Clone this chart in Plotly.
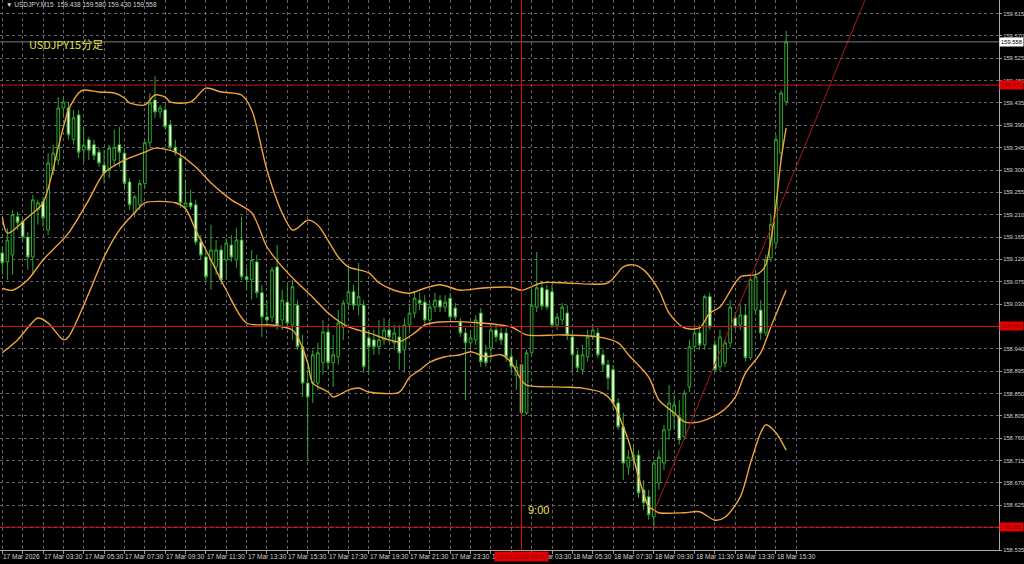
import plotly.graph_objects as go

# ---------------- data ----------------
symbol_header = "\u25BC USDJPY,M15  159.438 159.580 159.430 159.558"
chart_title = "USDJPY15分足"
marker_text = "9:00"

time_labels = ["17 Mar 2026", "17 Mar 03:30", "17 Mar 05:30", "17 Mar 07:30", "17 Mar 09:30",
               "17 Mar 11:30", "17 Mar 13:30", "17 Mar 15:30", "17 Mar 17:30", "17 Mar 19:30",
               "17 Mar 21:30", "17 Mar 23:30", "18 Mar 01:30", "18 Mar 03:30", "18 Mar 05:30",
               "18 Mar 07:30", "18 Mar 09:30", "18 Mar 11:30", "18 Mar 13:30", "18 Mar 15:30"]

price_ticks = [158.535, 158.580, 158.625, 158.670, 158.715, 158.760, 158.805, 158.850, 158.895,
               158.940, 158.985, 159.030, 159.075, 159.120, 159.165, 159.210, 159.255, 159.300,
               159.345, 159.390, 159.435, 159.480, 159.525, 159.570, 159.615]

opens = [159.133, 159.115, 159.129, 159.206, 159.196, 159.165, 159.125, 159.220, 159.236, 159.179,
         159.300, 159.320, 159.425, 159.425, 159.361, 159.411, 159.340, 159.361, 159.351, 159.336,
         159.310, 159.300, 159.320, 159.351, 159.334, 159.276, 159.214, 159.230, 159.273, 159.355,
         159.441, 159.417, 159.421, 159.391, 159.346, 159.324, 159.226, 159.234, 159.230, 159.155,
         159.125, 159.119, 159.105, 159.139, 159.119, 159.149, 159.119, 159.159, 159.085, 159.079,
         159.115, 159.053, 159.004, 159.004, 159.105, 158.998, 159.034, 158.988, 159.028, 158.944,
         158.871, 158.871, 158.871, 158.912, 158.974, 158.912, 158.924, 158.984, 159.032, 159.055,
         159.028, 159.028, 158.962, 158.958, 158.944, 158.958, 158.978, 158.952, 158.964, 158.938,
         158.988, 159.012, 159.038, 159.034, 158.998, 159.024, 159.038, 159.024, 159.042, 159.022,
         158.994, 158.972, 158.952, 158.958, 159.012, 158.932, 158.942, 158.978, 158.972, 158.972,
         158.924, 158.887, 158.908, 158.811, 158.932, 159.024, 159.063, 159.059, 159.055, 158.988,
         158.998, 159.012, 158.964, 158.928, 158.898, 158.924, 158.964, 158.972, 158.928, 158.908,
         158.898, 158.831, 158.783, 158.702, 158.716, 158.726, 158.656, 158.642, 158.602, 158.670,
         158.710, 158.777, 158.807, 158.803, 158.763, 158.863, 158.944, 158.972, 158.948, 159.045,
         158.948, 158.904, 158.912, 158.952, 159.002, 158.988, 159.008, 158.922, 159.018, 159.018,
         158.972, 159.123, 159.153, 159.334, 159.438]
highs = [159.145, 159.183, 159.220, 159.216, 159.204, 159.175, 159.250, 159.240, 159.246, 159.334,
         159.351, 159.447, 159.445, 159.437, 159.421, 159.421, 159.387, 159.367, 159.361, 159.344,
         159.340, 159.351, 159.381, 159.387, 159.344, 159.284, 159.250, 159.280, 159.361, 159.455,
         159.489, 159.431, 159.431, 159.401, 159.361, 159.340, 159.280, 159.260, 159.240, 159.169,
         159.139, 159.190, 159.159, 159.149, 159.163, 159.169, 159.183, 159.206, 159.103, 159.139,
         159.129, 159.069, 159.038, 159.105, 159.149, 159.059, 159.069, 159.079, 159.038, 158.968,
         158.898, 158.938, 158.952, 158.998, 158.988, 158.968, 159.018, 159.038, 159.105, 159.069,
         159.113, 159.038, 158.978, 158.978, 158.998, 159.002, 158.998, 158.988, 158.988, 159.002,
         159.028, 159.053, 159.053, 159.048, 159.032, 159.053, 159.048, 159.048, 159.053, 159.032,
         159.002, 158.982, 158.978, 159.008, 159.022, 158.948, 158.988, 158.988, 158.982, 158.982,
         158.938, 158.918, 158.922, 158.938, 159.059, 159.135, 159.073, 159.069, 159.069, 159.012,
         159.032, 159.028, 158.978, 158.938, 158.948, 158.978, 158.988, 158.982, 158.938, 158.918,
         158.908, 158.841, 158.811, 158.736, 158.747, 158.736, 158.676, 158.656, 158.716, 158.736,
         158.787, 158.867, 158.847, 158.837, 158.857, 158.958, 158.988, 158.988, 159.049, 159.053,
         158.958, 158.978, 158.958, 159.038, 159.014, 159.028, 159.028, 159.083, 159.099, 159.038,
         159.129, 159.210, 159.371, 159.461, 159.580]
lows = [159.089, 159.079, 159.089, 159.179, 159.155, 159.099, 159.089, 159.190, 159.185, 159.169,
        159.290, 159.310, 159.405, 159.361, 159.351, 159.324, 159.316, 159.320, 159.320, 159.306,
        159.273, 159.284, 159.310, 159.306, 159.260, 159.220, 159.204, 159.220, 159.264, 159.345,
        159.405, 159.405, 159.381, 159.340, 159.329, 159.224, 159.216, 159.220, 159.149, 159.119,
        159.075, 159.059, 159.089, 159.069, 159.079, 159.115, 159.103, 159.079, 159.059, 159.039,
        159.043, 158.964, 158.988, 158.994, 158.978, 158.978, 158.982, 158.958, 158.938, 158.843,
        158.716, 158.831, 158.857, 158.888, 158.898, 158.863, 158.908, 158.958, 159.018, 159.018,
        159.008, 158.892, 158.892, 158.928, 158.928, 158.948, 158.954, 158.938, 158.898, 158.892,
        158.978, 159.002, 159.018, 158.988, 158.988, 159.014, 159.014, 159.014, 158.998, 158.998,
        158.964, 158.837, 158.938, 158.948, 158.904, 158.904, 158.918, 158.954, 158.948, 158.914,
        158.894, 158.857, 158.807, 158.807, 158.926, 159.014, 159.018, 159.018, 158.982, 158.978,
        158.988, 158.958, 158.894, 158.894, 158.888, 158.914, 158.958, 158.922, 158.894, 158.857,
        158.817, 158.777, 158.676, 158.686, 158.696, 158.640, 158.616, 158.596, 158.580, 158.656,
        158.696, 158.757, 158.777, 158.747, 158.757, 158.853, 158.934, 158.938, 158.938, 158.978,
        158.894, 158.894, 158.904, 158.942, 158.978, 158.978, 158.914, 158.918, 159.008, 158.958,
        158.966, 159.115, 159.143, 159.320, 159.430]
closes = [159.113, 159.159, 159.210, 159.194, 159.165, 159.125, 159.240, 159.234, 159.204, 159.314,
          159.334, 159.425, 159.437, 159.371, 159.405, 159.336, 159.350, 159.340, 159.329, 159.314,
          159.294, 159.344, 159.346, 159.336, 159.273, 159.230, 159.246, 159.273, 159.355, 159.435,
          159.417, 159.425, 159.387, 159.346, 159.336, 159.234, 159.234, 159.226, 159.155, 159.129,
          159.085, 159.139, 159.139, 159.079, 159.153, 159.125, 159.159, 159.085, 159.079, 159.119,
          159.053, 159.004, 158.998, 159.099, 158.988, 159.038, 158.992, 159.065, 158.944, 158.871,
          158.843, 158.928, 158.932, 158.974, 158.912, 158.928, 158.992, 159.032, 159.055, 159.028,
          159.045, 158.904, 158.944, 158.944, 158.958, 158.978, 158.964, 158.972, 158.932, 158.988,
          159.012, 159.042, 159.032, 158.998, 159.024, 159.038, 159.024, 159.034, 159.004, 159.004,
          158.972, 158.952, 158.962, 158.998, 158.914, 158.912, 158.978, 158.964, 158.958, 158.924,
          158.904, 158.904, 158.811, 158.932, 159.028, 159.063, 159.026, 159.024, 158.988, 159.004,
          159.024, 158.968, 158.928, 158.902, 158.928, 158.964, 158.978, 158.928, 158.908, 158.881,
          158.831, 158.783, 158.710, 158.722, 158.726, 158.650, 158.630, 158.606, 158.710, 158.722,
          158.777, 158.831, 158.827, 158.757, 158.851, 158.944, 158.972, 158.948, 159.045, 158.984,
          158.898, 158.964, 158.952, 159.024, 158.984, 159.008, 158.922, 159.079, 159.085, 158.972,
          159.119, 159.190, 159.361, 159.455, 159.558]

# Bollinger band readings (bar index, price)
upper_bars = [0, 1, 5, 8, 11, 13, 15, 16, 19, 22, 24, 25, 28, 30, 32, 33, 37, 40, 43, 47, 49, 52,
              55, 57, 58, 60, 62, 66, 68, 72, 74, 77, 80, 83, 86, 90, 94, 100, 102, 106, 110, 119,
              122, 124, 126, 129, 131, 134, 137, 139, 141, 145, 148, 149, 150, 151, 152, 153, 154]
upper_vals = [159.205, 159.173, 159.205, 159.234, 159.346, 159.421, 159.455, 159.461, 159.457,
              159.455, 159.445, 159.435, 159.431, 159.451, 159.447, 159.437, 159.437, 159.465,
              159.457, 159.451, 159.421, 159.300, 159.213, 159.179, 159.183, 159.199, 159.189,
              159.125, 159.105, 159.093, 159.073, 159.058, 159.052, 159.062, 159.069, 159.058,
              159.062, 159.064, 159.058, 159.073, 159.073, 159.073, 159.105, 159.109, 159.099,
              159.058, 159.012, 158.982, 158.982, 159.012, 159.024, 159.085, 159.089, 159.095,
              159.109, 159.159, 159.230, 159.320, 159.385]
middle_bars = [0, 2, 5, 8, 13, 17, 20, 24, 28, 30, 34, 38, 41, 45, 49, 52, 55, 58, 61, 64, 68, 72,
               76, 78, 81, 83, 86, 94, 100, 103, 110, 117, 121, 123, 127, 129, 132, 134, 137, 141,
               144, 146, 149, 151, 154]
middle_vals = [159.062, 159.058, 159.079, 159.119, 159.173, 159.240, 159.294, 159.320, 159.336,
               159.344, 159.336, 159.306, 159.274, 159.240, 159.214, 159.145, 159.105, 159.073,
               159.044, 159.012, 158.984, 158.972, 158.958, 158.954, 158.972, 158.988, 158.994,
               158.992, 158.984, 158.968, 158.968, 158.964, 158.952, 158.928, 158.883, 158.837,
               158.811, 158.793, 158.793, 158.811, 158.843, 158.891, 158.932, 158.984, 159.058]
lower_bars = [0, 3, 7, 9, 12, 13, 17, 20, 23, 26, 28, 34, 36, 38, 41, 44, 48, 53, 57, 58, 60, 61,
              64, 65, 68, 70, 72, 78, 80, 82, 84, 87, 90, 92, 95, 98, 100, 102, 103, 110, 114, 118,
              120, 122, 123, 127, 128, 129, 134, 137, 140, 142, 145, 147, 149, 150, 152, 154]
lower_vals = [158.932, 158.958, 159.002, 158.992, 158.958, 158.964, 159.052, 159.125, 159.179,
              159.214, 159.234, 159.234, 159.222, 159.179, 159.119, 159.058, 158.992, 158.988,
              158.978, 158.964, 158.912, 158.871, 158.853, 158.843, 158.857, 158.861, 158.853,
              158.853, 158.883, 158.897, 158.913, 158.924, 158.928, 158.934, 158.924, 158.928,
              158.912, 158.877, 158.867, 158.863, 158.861, 158.851, 158.831, 158.783, 158.756,
              158.622, 158.616, 158.610, 158.610, 158.612, 158.595, 158.601, 158.642, 158.710,
              158.771, 158.787, 158.771, 158.736]

hline_prices = [159.471, 158.985, 158.581]
current_price = 159.558
vline_bar = 102
vline_label = "18.03.2026 03:00"
trend_bars = [128, 170]
trend_prices = [158.611, 159.655]

# ---------------- style ----------------
BG = "#000000"
GRID = "#656565"
GREEN = "#2fa82f"
CREAM = "#f2ffd6"
ORANGE = "#f0a53a"
RED = "#c8141e"
LABEL_RED = "#e60000"
TXT = "#d2d2d2"
YELLOW = "#e4e44e"
FONT = "Liberation Sans"

bars = list(range(len(opens)))

fig = go.Figure()

fig.add_trace(go.Candlestick(
    x=bars, open=opens, high=highs, low=lows, close=closes,
    increasing=dict(line=dict(color=GREEN, width=1), fillcolor="#000000"),
    decreasing=dict(line=dict(color=GREEN, width=1), fillcolor=CREAM),
    whiskerwidth=0, hoverinfo="skip", showlegend=False))

for bx, bv in ((upper_bars, upper_vals), (middle_bars, middle_vals), (lower_bars, lower_vals)):
    fig.add_trace(go.Scatter(x=bx, y=bv, mode="lines",
                             line=dict(color=ORANGE, width=1.4, shape="spline", smoothing=0.8),
                             hoverinfo="skip", showlegend=False))

fig.add_trace(go.Scatter(x=trend_bars, y=trend_prices, mode="lines",
                         line=dict(color="#a8181c", width=1), hoverinfo="skip", showlegend=False))

for p in hline_prices:
    fig.add_trace(go.Scatter(x=[-1, 200], y=[p, p], mode="lines",
                             line=dict(color=RED, width=1), hoverinfo="skip", showlegend=False))
fig.add_trace(go.Scatter(x=[-1, 200], y=[current_price, current_price], mode="lines",
                         line=dict(color="#7c7c7c", width=1), hoverinfo="skip", showlegend=False))
fig.add_trace(go.Scatter(x=[vline_bar, vline_bar], y=[158.0, 160.0], mode="lines",
                         line=dict(color=RED, width=1), hoverinfo="skip", showlegend=False))

# x ticks: grid every hour (4 bars); labels every 2 hours (8 bars), left-aligned at the tick
xt_vals = []
for k in range(len(time_labels)):
    xt_vals += [8 * k, 8 * k + 4]

fig.update_xaxes(
    range=[-0.452, 195.82], tickmode="array", tickvals=xt_vals, ticktext=[""] * len(xt_vals),
    ticks="outside", ticklen=3, tickcolor="#9a9a9a",
    showgrid=True, gridcolor=GRID, griddash="dot", gridwidth=1,
    showline=True, linecolor="#a8a8a8", linewidth=1, zeroline=False,
    rangeslider=dict(visible=False), fixedrange=True, automargin=False)

# price labels hidden under the red line labels in the reference are left blank
covered = set(round(p, 2) for p in hline_prices)
ytext = ["" if round(v, 2) in covered else f"{v:.3f}" for v in price_ticks]

fig.update_yaxes(
    side="right", range=[158.535, 159.6423], tickmode="array", tickvals=price_ticks,
    ticktext=ytext, ticks="outside", ticklen=2, tickcolor="#9a9a9a",
    tickfont=dict(family=FONT, size=5.8, color=TXT),
    showgrid=True, gridcolor=GRID, griddash="dot", gridwidth=1,
    showline=True, linecolor="#a8a8a8", linewidth=1, zeroline=False, fixedrange=True,
    automargin=False)

annotations = [
    dict(text=symbol_header, xref="paper", yref="paper", x=0.004, y=0.991, xanchor="left",
         yanchor="middle", showarrow=False, font=dict(family=FONT, size=6.5, color=TXT)),
    dict(text=chart_title, xref="paper", yref="paper", x=0.027, y=0.92, xanchor="left",
         yanchor="middle", showarrow=False,
         font=dict(family="Noto Sans CJK JP", size=11, color=YELLOW)),
    dict(text=marker_text, xref="paper", yref="paper", x=0.527, y=0.073, xanchor="left",
         yanchor="middle", showarrow=False, font=dict(family=FONT, size=11, color=YELLOW)),
]
for k, lab in enumerate(time_labels):
    annotations.append(dict(text=lab, xref="x", yref="paper", x=8 * k, y=0, xanchor="left",
                            yanchor="top", xshift=-1, yshift=-1, showarrow=False,
                            font=dict(family=FONT, size=6.5, color=TXT)))
for p in hline_prices:
    annotations.append(dict(text=f"{p:.3f}", xref="paper", yref="y", x=1.0, y=p, xanchor="left",
                            yanchor="middle", showarrow=False, bgcolor=LABEL_RED, borderpad=1,
                            font=dict(family=FONT, size=5.8, color="#8a0000")))
annotations.append(dict(text=f"{current_price:.3f}", xref="paper", yref="y", x=1.0, y=current_price,
                        xanchor="left", yanchor="middle", showarrow=False, bgcolor="#ffffff",
                        borderpad=1, font=dict(family=FONT, size=5.8, color="#000000")))
annotations.append(dict(text=vline_label, xref="x", yref="paper", x=vline_bar, y=0, xanchor="center",
                        yanchor="top", yshift=-1, showarrow=False, bgcolor=LABEL_RED, borderpad=1,
                        font=dict(family=FONT, size=6.5, color="#8a0000")))

fig.update_layout(
    width=1024, height=564, margin=dict(l=0, r=25, t=0, b=14, autoexpand=False),
    paper_bgcolor=BG, plot_bgcolor=BG, showlegend=False, boxgap=0.25,
    annotations=annotations, hovermode=False)

fig.write_html("out.html", config={"displayModeBar": False},
               post_script="document.body.style.margin='0px';document.body.style.background='#000';")
